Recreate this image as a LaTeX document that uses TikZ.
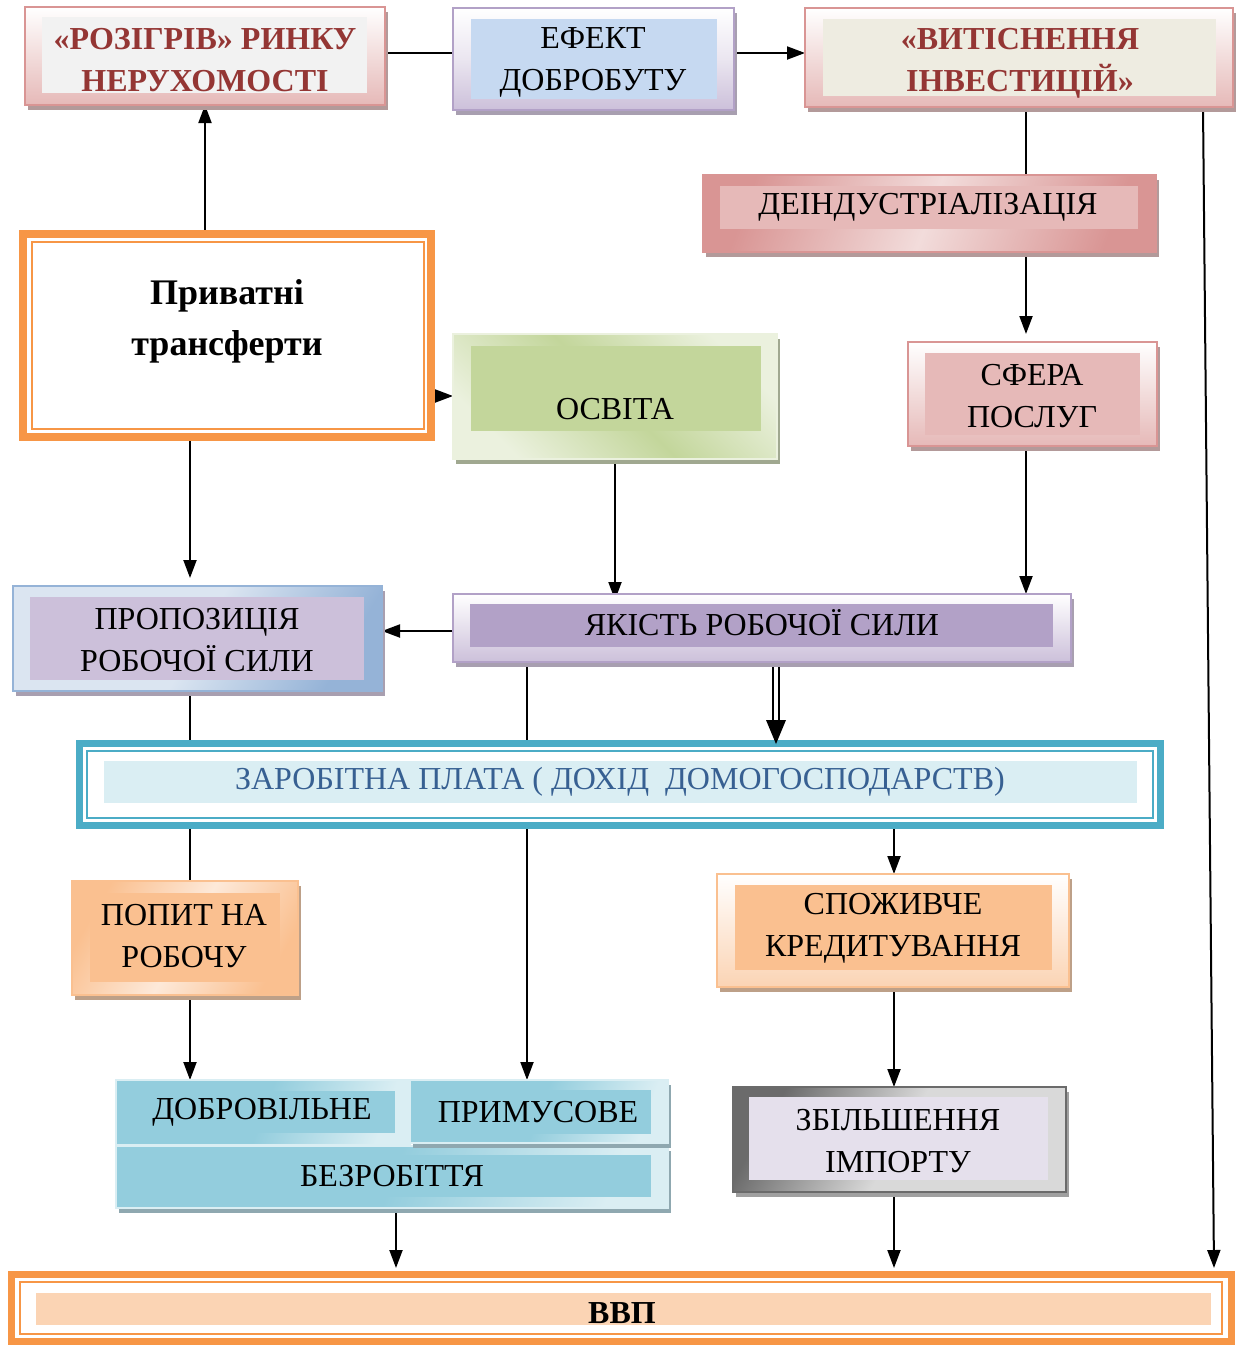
\documentclass[tikz,border=0pt]{standalone}
\usepackage{fontspec}
\setmainfont{Liberation Serif}
\usetikzlibrary{arrows.meta,fit,calc}
\pgfdeclarelayer{bg}
\pgfsetlayers{bg,main}
\definecolor{pinkB}{HTML}{D99594}
\definecolor{pinkL}{HTML}{E6B9B8}
\definecolor{pinkLL}{HTML}{F2DCDB}
\definecolor{redT}{HTML}{943634}
\definecolor{lavB}{HTML}{B2A1C7}
\definecolor{lavL}{HTML}{CCC0DA}
\definecolor{blueIn}{HTML}{C6D9F1}
\definecolor{beige}{HTML}{EEECE1}
\definecolor{grayIn}{HTML}{F2F2F2}
\definecolor{orangeB}{HTML}{F79646}
\definecolor{greenIn}{HTML}{C3D69B}
\definecolor{greenL}{HTML}{EBF1DE}
\definecolor{blueB}{HTML}{95B3D7}
\definecolor{blueL}{HTML}{DBE5F1}
\definecolor{peach}{HTML}{FAC090}
\definecolor{peachL}{HTML}{FDE9D9}
\definecolor{aqua}{HTML}{93CDDD}
\definecolor{aquaL}{HTML}{DAEEF3}
\definecolor{teal}{HTML}{4BACC6}
\definecolor{wageT}{HTML}{376092}
\definecolor{grayD}{HTML}{6B6B6B}
\definecolor{grayL}{HTML}{D9D9D9}
\definecolor{lilac}{HTML}{E5E0EC}
\definecolor{vvpIn}{HTML}{FBD4B4}
\definecolor{shdP}{HTML}{B39A9A}
\definecolor{shdV}{HTML}{A89FB0}
\definecolor{shdG}{HTML}{A0A890}
\definecolor{shdO}{HTML}{BDA088}
\definecolor{shdA}{HTML}{8FA8B0}
\definecolor{shdK}{HTML}{A0A0A0}
\newcommand\boxat[6]{\node[fit={(#2,#3) (#4,#5)}, inner sep=0pt, outer sep=0pt, #6] (#1) {};}
\newcommand\shadowat[5]{\fill[#5] ({#1+3},{#2+5}) rectangle ({#3+3},{#4+5});}
\newcommand\innerat[5]{\fill[#5] (#1,#2) rectangle (#3,#4);}
\begin{document}
\begin{tikzpicture}[x=0.5pt,y=-0.5pt,
  conn/.style={line width=1pt, -{Triangle[length=9pt,width=6.5pt]}},
  plain/.style={line width=1pt},
  thinb/.style={line width=0.75pt},
  txt/.style={font=\fontsize{16}{21}\selectfont, align=center, inner sep=0pt},
  redtxt/.style={txt, font=\fontsize{16}{21}\selectfont\bfseries, text=redT},
]
\useasboundingbox (0,0) rectangle (1236,1345);

% column / row helper coordinates
\coordinate (h53) at (0,53);
\coordinate (h396) at (0,396);
\coordinate (h631) at (0,631);
\coordinate (v190) at (190,0);
\coordinate (v205) at (205,0);
\coordinate (v396) at (396,0);
\coordinate (v527) at (527,0);
\coordinate (v615) at (615,0);
\coordinate (v773) at (773,0);
\coordinate (v776) at (776,0);
\coordinate (v779) at (779,0);
\coordinate (v894) at (894,0);
\coordinate (v1026) at (1026,0);
\coordinate (v1203) at (1203,0);
\coordinate (v1214) at (1214,0);

% 1 rozigriv
\shadowat{25}{7}{385}{105}{shdP}
\boxat{roz}{25}{7}{385}{105}{draw=pinkB, thinb, top color=white, bottom color=pinkL, middle color=pinkLL}
\innerat{42}{17}{367}{93}{grayIn}
\node[redtxt] at (205,60) {«РОЗІГРІВ» РИНКУ\\НЕРУХОМОСТІ};

% 2 efekt
\shadowat{453}{8}{734}{110}{shdV}
\boxat{efe}{453}{8}{734}{110}{draw=lavB, thinb, top color=white, bottom color=lavL, middle color=white!60!lavL}
\innerat{471}{19}{717}{99}{blueIn}
\node[txt] at (593,62) {ЕФЕКТ\\ДОБРОБУТУ};

% 3 vytisnennia
\shadowat{805}{8}{1233}{107}{shdP}
\boxat{vyt}{805}{8}{1233}{107}{draw=pinkB, thinb, top color=white, bottom color=pinkL, middle color=pinkLL}
\innerat{823}{19}{1216}{96}{beige}
\node[redtxt] at (1020,63) {«ВИТІСНЕННЯ\\ІНВЕСТИЦІЙ»};

% 4 deindustrializatsiia
\shadowat{703}{175}{1156}{252}{shdP}
\boxat{dei}{703}{175}{1156}{252}{draw=pinkB, thinb, left color=pinkB, right color=pinkB, middle color=pinkLL, shading angle=70}
\innerat{720}{186}{1138}{229}{pinkL}
\node[txt] at (928,207) {ДЕІНДУСТРІАЛІЗАЦІЯ};

% 5 pryvatni transferty
\boxat{pri}{19}{230}{435}{441}{fill=white}
\draw[line width=4pt, orangeB] (23,234) rectangle (431,437);
\draw[line width=1pt, orangeB] (32,242) rectangle (423.5,428.5);
\node[txt, font=\fontsize{18}{25.5}\selectfont\bfseries] at (227,321) {Приватні\\трансферти};

% 6 osvita
\shadowat{453}{334}{777}{459}{shdG}
\boxat{osv}{453}{334}{777}{459}{draw=greenL, thinb, left color=greenL, right color=greenL, middle color=greenIn, shading angle=135}
\innerat{471}{346}{761}{431}{greenIn}
\node[txt] at (615,409) {ОСВІТА};

% 7 sfera posluh
\shadowat{908}{342}{1157}{446}{shdP}
\boxat{sfe}{908}{342}{1157}{446}{draw=pinkB, thinb, top color=white, bottom color=pinkL, middle color=pinkLL}
\innerat{925}{353}{1140}{435}{pinkL}
\node[txt] at (1032,396) {СФЕРА\\ПОСЛУГ};

% 8 propozytsiia
\shadowat{13}{586}{382}{691}{shdV}
\boxat{pro}{13}{586}{382}{691}{draw=blueB, thinb, left color=blueL, right color=blueB, middle color=blueL, shading angle=60}
\innerat{30}{597}{364}{680}{lavL}
\node[txt] at (197,640) {ПРОПОЗИЦІЯ\\РОБОЧОЇ СИЛИ};

% 9 yakist
\shadowat{453}{594}{1071}{662}{shdV}
\boxat{yak}{453}{594}{1071}{662}{draw=lavB, thinb, top color=white, bottom color=lavL, middle color=white!50!lavL}
\innerat{470}{604}{1053}{647}{lavB}
\node[txt] at (762,623) {ЯКІСТЬ РОБОЧОЇ СИЛИ};

% 10 zarobitna plata
\boxat{zar}{76}{740}{1164}{829}{fill=white}
\draw[line width=3.5pt, teal] (79.5,743.5) rectangle (1160.5,825.5);
\draw[line width=1pt, teal] (87,751) rectangle (1153,818);
\innerat{104}{761}{1137}{803}{aquaL}
\node[txt, text=wageT] at (620,782) {ЗАРОБІТНА ПЛАТА ( ДОХІД\ \ ДОМОГОСПОДАРСТВ)};

% 11 popyt
\shadowat{72}{881}{298}{995}{shdO}
\boxat{pop}{72}{881}{298}{995}{draw=peach, thinb, left color=peach, right color=peach, middle color=peachL, shading angle=60}
\innerat{90}{893}{280}{982}{peach}
\node[txt] at (184,936) {ПОПИТ НА\\РОБОЧУ};

% 12 spozhyvche
\shadowat{717}{874}{1069}{987}{shdO}
\boxat{spo}{717}{874}{1069}{987}{draw=peach, thinb, top color=white, bottom color=vvpIn, middle color=peachL}
\innerat{735}{885}{1052}{970}{peach}
\node[txt] at (893,928) {СПОЖИВЧЕ\\КРЕДИТУВАННЯ};

% 13 bezrobittia
\shadowat{116}{1146}{668}{1208}{shdA}
\boxat{bez}{116}{1146}{668}{1208}{draw=aquaL, thinb, left color=aqua, right color=aquaL, middle color=aqua, shading angle=70}
\innerat{133}{1155}{651}{1197}{aqua}
\node[txt] at (392,1176) {БЕЗРОБІТТЯ};
\boxat{dob}{116}{1080}{410}{1145}{draw=aquaL, thinb, left color=aqua, right color=aquaL, middle color=aqua, shading angle=70}
\innerat{133}{1091}{395}{1133}{aqua}
\node[txt] at (262,1112) {ДОБРОВІЛЬНЕ};
\shadowat{410}{1080}{668}{1143}{shdA}
\boxat{prm}{410}{1080}{668}{1143}{draw=aquaL, thinb, left color=aqua, right color=aquaL, middle color=aqua, shading angle=70}
\innerat{426}{1090}{651}{1134}{aqua}
\node[txt] at (538,1112) {ПРИМУСОВЕ};

% 14 zbilshennia importu
\shadowat{733}{1087}{1066}{1192}{shdK}
\boxat{zbi}{733}{1087}{1066}{1192}{draw=grayD, thinb, left color=grayD, right color=grayL, middle color=grayL, shading angle=60}
\innerat{749}{1097}{1048}{1180}{lilac}
\node[txt] at (898,1141) {ЗБІЛЬШЕННЯ\\ІМПОРТУ};

% 15 VVP
\boxat{vvp}{8}{1271}{1235}{1345}{fill=white}
\draw[line width=3.5pt, orangeB] (11.5,1274.5) rectangle (1231.5,1341.5);
\draw[line width=1pt, orangeB] (20,1282) rectangle (1222,1334);
\innerat{36}{1293}{1211}{1325}{vvpIn}
\node[txt, font=\fontsize{16}{21}\selectfont\bfseries] at (622,1313) {ВВП};

% connectors
\begin{pgfonlayer}{bg}
\fill[white] (0,0) rectangle (1236,1345);
\draw[plain] (roz.east |- h53) -- (efe.west |- h53);
\draw[conn] (efe.east |- h53) -- (vyt.west |- h53);
\draw[conn] (pri.north -| v205) -- (roz.south -| v205);
\draw[conn] (pri.east |- h396) -- (osv.west |- h396);
\draw[conn] (pri.south -| v190) -- ($(pro.north -| v190)+(0,-8)$);
\draw[plain] (vyt.south -| v1026) -- (dei.north -| v1026);
\draw[conn] (dei.south -| v1026) -- ($(sfe.north -| v1026)+(0,-8)$);
\draw[conn] (sfe.south -| v1026) -- (yak.north -| v1026);
\draw[conn] (osv.south -| v615) -- ($(yak.north -| v615)+(0,6)$);
\draw[conn] (yak.west |- h631) -- (pro.east |- h631);
\draw[plain] (pro.south -| v190) -- (pop.north -| v190);
\draw[conn] (pop.south -| v190) -- (dob.north -| v190);
\draw[conn] (yak.south -| v527) -- (prm.north -| v527);
\draw[conn] (zar.south -| v894) -- (spo.north -| v894);
\draw[conn] (spo.south -| v894) -- (zbi.north -| v894);
\draw[conn] (zbi.south -| v894) -- ($(vvp.north -| v894)+(0,-3)$);
\draw[conn] (bez.south -| v396) -- ($(vvp.north -| v396)+(0,-3)$);
\draw[conn] (vyt.south -| v1203) -- ($(vvp.north -| v1214)+(0,-3)$);
\draw[plain] (yak.south -| v773) -- ($(zar.north -| v773)+(0,-20)$);
\draw[plain] (yak.south -| v779) -- ($(zar.north -| v779)+(0,-20)$);
\end{pgfonlayer}
\fill ($(zar.north -| v776)+(0,4)$) -- ++(-10,-24) -- ++(20,0) -- cycle;
\end{tikzpicture}
\end{document}
